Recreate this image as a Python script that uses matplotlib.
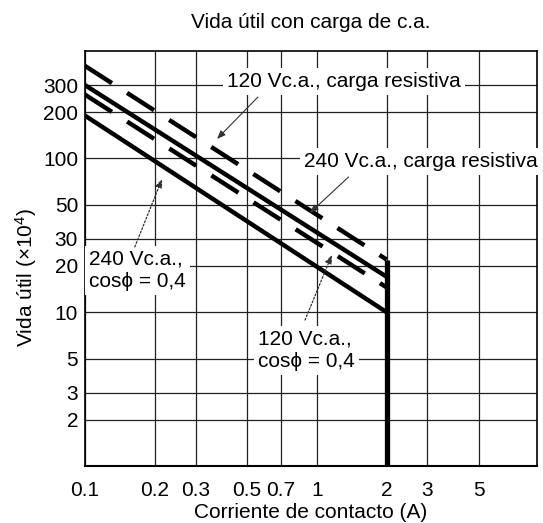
import matplotlib
matplotlib.use("Agg")
import matplotlib.pyplot as plt
from matplotlib.ticker import FixedLocator, FixedFormatter, NullLocator

plt.rcParams["font.family"] = ["Liberation Sans", "DejaVu Sans"]
plt.rcParams["mathtext.fontset"] = "custom"
plt.rcParams["mathtext.rm"] = "Liberation Sans"
plt.rcParams["mathtext.it"] = "Liberation Sans:italic"

# Contact current (A) at the start and end of each life curve
current_a = [0.1, 2.0]
# Electrical life (x10^4 operations)
life_120v_resistive = [400, 22]
life_240v_resistive = [260, 14.5]
life_120v_cos04 = [300, 17]
life_240v_cos04 = [190, 10]
max_current_a = 2.0

x_ticks = [0.1, 0.2, 0.3, 0.5, 0.7, 1, 2, 3, 5]
x_tick_labels = ["0.1", "0.2", "0.3", "0.5", "0.7", "1", "2", "3", "5"]
y_ticks = [2, 3, 5, 10, 20, 30, 50, 100, 200, 300]
y_tick_labels = ["2", "3", "5", "10", "20", "30", "50", "100", "200", "300"]

W, H = 543, 523
fig = plt.figure(figsize=(W / 100, H / 100), dpi=100)
ax = fig.add_axes([85 / W, 1 - 466 / H, 452 / W, 415 / H])
ax.set_xscale("log")
ax.set_yscale("log")
ax.set_xlim(0.1, 8.9)
ax.set_ylim(1, 500)

ax.xaxis.set_major_locator(FixedLocator(x_ticks))
ax.xaxis.set_major_formatter(FixedFormatter(x_tick_labels))
ax.yaxis.set_major_locator(FixedLocator(y_ticks))
ax.yaxis.set_major_formatter(FixedFormatter(y_tick_labels))
ax.xaxis.set_minor_locator(NullLocator())
ax.yaxis.set_minor_locator(NullLocator())
ax.tick_params(axis="x", length=0, pad=11, labelsize=15)
ax.tick_params(axis="y", length=0, pad=5, labelsize=15)
ax.grid(True, which="major", color="#222222", lw=0.9, zorder=1)
ax.set_axisbelow(True)
for side, sp in ax.spines.items():
    sp.set_color("black")
    sp.set_linewidth(1.5 if side == "bottom" else 1.2)

lw = 3.2
dashed = (0, (7.2, 4.05))
ax.plot(current_a, life_120v_resistive, color="black", lw=lw, linestyle=dashed,
        dash_capstyle="butt", zorder=3)
ax.plot(current_a, life_240v_resistive, color="black", lw=lw, linestyle=dashed,
        dash_capstyle="butt", zorder=3)
ax.plot(current_a, life_120v_cos04, color="black", lw=lw, solid_capstyle="butt", zorder=3)
ax.plot(current_a, life_240v_cos04, color="black", lw=lw, solid_capstyle="butt", zorder=3)
ax.vlines(max_current_a, ax.get_ylim()[0], life_120v_resistive[-1], colors="black",
          lw=3.8, zorder=3)

box = dict(boxstyle="square,pad=0.2", fc="white", ec="none")
ax.text(0.4095, 291.7, "120 Vc.a., carga resistiva", ha="left", va="baseline",
        fontsize=15, bbox=box, zorder=5)
ax.text(0.880, 88.4, "240 Vc.a., carga resistiva", ha="left", va="baseline",
        fontsize=15, bbox=box, zorder=5, clip_on=False)
ax.text(0.104, 14.66, "240 Vc.a.,\ncos\u03d5 = 0,4", ha="left", va="baseline",
        fontsize=15, bbox=box, zorder=5, linespacing=1.2)
ax.text(0.557, 4.42, "120 Vc.a.,\ncos\u03d5 = 0,4", ha="left", va="baseline",
        fontsize=15, bbox=box, zorder=5, linespacing=1.2)

head = "-|>,head_length=0.5,head_width=0.2"
ax.annotate("", xy=(0.371, 134), xytext=(0.557, 251),
            arrowprops=dict(arrowstyle=head, color="#333333", lw=0.8,
                            shrinkA=0, shrinkB=0), zorder=6)
ax.annotate("", xy=(0.933, 44.2), xytext=(1.37, 75.8),
            arrowprops=dict(arrowstyle=head, color="#333333", lw=0.8,
                            shrinkA=0, shrinkB=0), zorder=6)
ax.annotate("", xy=(0.215, 73.6), xytext=(0.164, 26.6),
            arrowprops=dict(arrowstyle=head, color="#333333", lw=0.9, linestyle=(0, (1.5, 1.5)),
                            shrinkA=0, shrinkB=0), zorder=6)
ax.annotate("", xy=(1.161, 23.6), xytext=(0.889, 8.9),
            arrowprops=dict(arrowstyle=head, color="#333333", lw=0.9, linestyle=(0, (1.5, 1.5)),
                            shrinkA=0, shrinkB=0), zorder=6)

fig.text(311 / W, 1 - 22 / H, "Vida útil con carga de c.a.", ha="center", va="center",
         fontsize=15)
ax.set_xlabel("Corriente de contacto (A)", fontsize=15, labelpad=2)
ax.set_ylabel("Vida útil (×10$^{4}$)", fontsize=15)
ax.yaxis.set_label_coords(-0.101, 0.455)

fig.savefig("out.png", dpi=100)
